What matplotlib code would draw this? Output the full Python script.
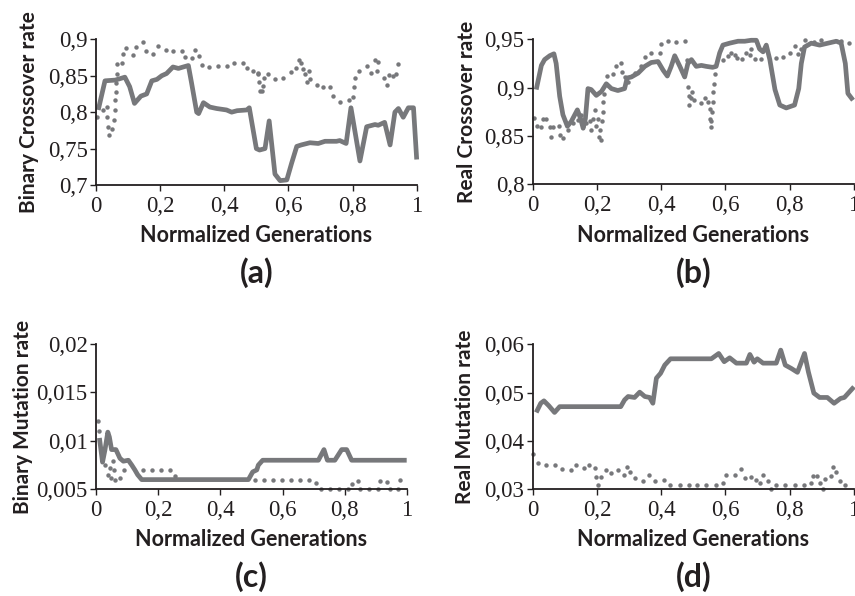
import matplotlib
matplotlib.use("Agg")
import matplotlib.pyplot as plt
from matplotlib.ticker import FixedLocator, FixedFormatter

# ---------------- data ----------------
x_ticks = [0, 0.2, 0.4, 0.6, 0.8, 1.0]
x_tick_labels = ["0", "0,2", "0,4", "0,6", "0,8", "1"]

# (a) Binary crossover rate
a_yticks = [0.7, 0.75, 0.8, 0.85, 0.9]
a_ylabels = ["0,7", "0,75", "0,8", "0,85", "0,9"]
a_solid_x = [0.007, 0.028, 0.06, 0.075, 0.09, 0.105, 0.12, 0.14, 0.158, 0.174, 0.19, 0.205, 0.22,
             0.24, 0.257, 0.272, 0.288, 0.298, 0.314, 0.32, 0.335, 0.355, 0.376, 0.407, 0.423,
             0.44, 0.47, 0.478, 0.50, 0.51, 0.527, 0.54, 0.558, 0.574, 0.595, 0.61, 0.626, 0.64,
             0.667, 0.693, 0.714, 0.75, 0.76, 0.78, 0.795, 0.823, 0.844, 0.87, 0.88, 0.90, 0.917,
             0.932, 0.943, 0.958, 0.974, 0.99, 1.0]
a_solid_y = [0.803, 0.843, 0.844, 0.846, 0.848, 0.835, 0.812, 0.822, 0.825, 0.843, 0.845, 0.850, 0.853,
             0.862, 0.860, 0.862, 0.864, 0.840, 0.800, 0.798, 0.813, 0.807, 0.805, 0.803, 0.800,
             0.802, 0.803, 0.806, 0.750, 0.748, 0.750, 0.788, 0.715, 0.706, 0.707, 0.730, 0.753, 0.755,
             0.758, 0.757, 0.760, 0.760, 0.761, 0.757, 0.806, 0.733, 0.780, 0.783, 0.782, 0.786, 0.755,
             0.800, 0.805, 0.793, 0.806, 0.806, 0.735]
a_dot_x = [0.002, 0.021, 0.033, 0.033, 0.038, 0.041, 0.049, 0.056, 0.059, 0.059, 0.062, 0.062, 0.064,
           0.066, 0.080, 0.083, 0.095, 0.114, 0.125, 0.148, 0.156, 0.179, 0.194, 0.218, 0.241, 0.267,
           0.278, 0.299, 0.310, 0.322, 0.330, 0.353, 0.379, 0.408, 0.431, 0.457, 0.472, 0.489, 0.504,
           0.509, 0.511, 0.506, 0.520, 0.517, 0.524, 0.537, 0.558, 0.584, 0.607, 0.624, 0.632, 0.639,
           0.645, 0.652, 0.657, 0.665, 0.667, 0.688, 0.709, 0.730, 0.740, 0.761, 0.789, 0.800, 0.804,
           0.807, 0.820, 0.844, 0.857, 0.870, 0.880, 0.875, 0.898, 0.906, 0.915, 0.927, 0.937, 0.941]
a_dot_y = [0.793, 0.803, 0.807, 0.793, 0.780, 0.768, 0.777, 0.789, 0.803, 0.816, 0.828, 0.840, 0.853,
           0.866, 0.867, 0.880, 0.888, 0.878, 0.890, 0.896, 0.884, 0.880, 0.891, 0.885, 0.884, 0.884,
           0.876, 0.874, 0.885, 0.877, 0.865, 0.862, 0.863, 0.863, 0.867, 0.867, 0.860, 0.857, 0.853,
           0.841, 0.829, 0.854, 0.836, 0.829, 0.847, 0.852, 0.845, 0.847, 0.855, 0.860, 0.871, 0.868,
           0.859, 0.853, 0.842, 0.857, 0.845, 0.837, 0.834, 0.834, 0.822, 0.814, 0.817, 0.821, 0.834,
           0.847, 0.857, 0.863, 0.854, 0.872, 0.869, 0.857, 0.847, 0.837, 0.851, 0.850, 0.853, 0.866]

# (b) Real crossover rate
b_yticks = [0.8, 0.85, 0.9, 0.95]
b_ylabels = ["0,8", "0,85", "0,9", "0,95"]
b_solid_x = [0.011, 0.027, 0.037, 0.053, 0.066, 0.073, 0.084, 0.094, 0.108, 0.120, 0.139, 0.149,
             0.157, 0.164, 0.172, 0.182, 0.198, 0.214, 0.229, 0.245, 0.265, 0.286, 0.294, 0.307,
             0.328, 0.349, 0.369, 0.390, 0.406, 0.419, 0.431, 0.442, 0.458, 0.473, 0.483, 0.494,
             0.509, 0.525, 0.540, 0.560, 0.571, 0.582, 0.592, 0.613, 0.639, 0.660, 0.680, 0.696,
             0.706, 0.717, 0.727, 0.738, 0.754, 0.769, 0.789, 0.815, 0.828, 0.836, 0.846, 0.867,
             0.893, 0.919, 0.945, 0.960, 0.973, 0.981, 0.997]
b_solid_y = [0.898, 0.923, 0.929, 0.933, 0.935, 0.925, 0.891, 0.872, 0.860, 0.865, 0.877, 0.868,
             0.858, 0.868, 0.899, 0.898, 0.892, 0.896, 0.904, 0.899, 0.897, 0.899, 0.910, 0.911,
             0.915, 0.922, 0.926, 0.927, 0.918, 0.912, 0.922, 0.933, 0.922, 0.911, 0.925, 0.929,
             0.922, 0.923, 0.922, 0.921, 0.922, 0.936, 0.944, 0.946, 0.948, 0.948, 0.949, 0.949,
             0.940, 0.937, 0.944, 0.929, 0.898, 0.882, 0.879, 0.882, 0.899, 0.925, 0.942, 0.946,
             0.944, 0.946, 0.948, 0.946, 0.925, 0.894, 0.887]
b_dot_x = [0.004, 0.014, 0.027, 0.032, 0.042, 0.056, 0.053, 0.063, 0.081, 0.084, 0.094, 0.110,
           0.125, 0.141, 0.151, 0.157, 0.167, 0.177, 0.182, 0.188, 0.193, 0.198, 0.203, 0.205,
           0.214, 0.211, 0.216, 0.219, 0.219, 0.222, 0.232, 0.250, 0.260, 0.276, 0.278, 0.286,
           0.296, 0.317, 0.338, 0.349, 0.369, 0.395, 0.400, 0.421, 0.447, 0.473, 0.481, 0.483,
           0.486, 0.488, 0.495, 0.492, 0.502, 0.525, 0.535, 0.546, 0.551, 0.558, 0.551, 0.554,
           0.554, 0.560, 0.560, 0.563, 0.567, 0.592, 0.608, 0.618, 0.629, 0.637, 0.652, 0.665,
           0.676, 0.680, 0.691, 0.712, 0.758, 0.779, 0.800, 0.817, 0.825, 0.836, 0.846, 0.877,
           0.898, 0.960, 0.983]
b_dot_y = [0.869, 0.860, 0.859, 0.868, 0.868, 0.849, 0.859, 0.859, 0.860, 0.851, 0.848, 0.856,
           0.863, 0.867, 0.872, 0.860, 0.863, 0.865, 0.856, 0.868, 0.877, 0.860, 0.868, 0.849,
           0.846, 0.856, 0.865, 0.875, 0.885, 0.893, 0.912, 0.914, 0.922, 0.926, 0.916, 0.911,
           0.906, 0.915, 0.922, 0.932, 0.936, 0.936, 0.945, 0.948, 0.947, 0.948, 0.929, 0.901,
           0.891, 0.882, 0.896, 0.889, 0.887, 0.884, 0.889, 0.885, 0.878, 0.875, 0.868, 0.865,
           0.859, 0.885, 0.895, 0.904, 0.914, 0.929, 0.933, 0.936, 0.934, 0.931, 0.930, 0.936,
           0.934, 0.940, 0.930, 0.930, 0.931, 0.932, 0.936, 0.943, 0.935, 0.940, 0.949, 0.947,
           0.949, 0.948, 0.946]

# (c) Binary mutation rate
c_yticks = [0.005, 0.01, 0.015, 0.02]
c_ylabels = ["0,005", "0,01", "0,015", "0,02"]
c_solid_x = [0.011, 0.021, 0.029, 0.038, 0.043, 0.050, 0.064, 0.077, 0.088, 0.104, 0.115, 0.125,
             0.134, 0.147, 0.490, 0.504, 0.517, 0.522, 0.536, 0.715, 0.733, 0.744, 0.768, 0.790,
             0.806, 0.822, 0.999]
c_solid_y = [0.0103, 0.0078, 0.0091, 0.0109, 0.0104, 0.0091, 0.0091, 0.0082, 0.0079, 0.0080, 0.0075, 0.0070,
             0.0065, 0.0060, 0.0060, 0.0068, 0.0070, 0.0075, 0.0080, 0.0080, 0.0091, 0.0080, 0.0080, 0.0091,
             0.0091, 0.0080, 0.0080]
c_dot_x = [0.007, 0.011, 0.029, 0.040, 0.045, 0.054, 0.047, 0.058, 0.061, 0.077, 0.090, 0.150,
           0.179, 0.208, 0.238, 0.254, 0.511, 0.540, 0.569, 0.598, 0.627, 0.656, 0.685, 0.709,
           0.722, 0.752, 0.781, 0.810, 0.822, 0.843, 0.849, 0.878, 0.907, 0.913, 0.935, 0.945,
           0.972, 0.977]
c_dot_y = [0.0120, 0.0110, 0.0075, 0.0065, 0.0072, 0.0079, 0.0062, 0.0070, 0.0060, 0.0062, 0.0070, 0.0070,
           0.0070, 0.0070, 0.0070, 0.0064, 0.0060, 0.0060, 0.0060, 0.0060, 0.0060, 0.0060, 0.0060, 0.0056,
           0.0050, 0.0050, 0.0050, 0.0050, 0.0055, 0.0059, 0.0050, 0.0050, 0.0050, 0.0059, 0.0058, 0.0050,
           0.0050, 0.0060]

# (d) Real mutation rate
d_yticks = [0.03, 0.04, 0.05, 0.06]
d_ylabels = ["0,03", "0,04", "0,05", "0,06"]
d_solid_x = [0.011, 0.025, 0.035, 0.050, 0.068, 0.084, 0.274, 0.286, 0.297, 0.317, 0.333, 0.349,
             0.364, 0.374, 0.385, 0.398, 0.411, 0.429, 0.556, 0.579, 0.596, 0.613, 0.634, 0.665,
             0.676, 0.689, 0.699, 0.717, 0.758, 0.772, 0.786, 0.805, 0.824, 0.846, 0.858, 0.875,
             0.893, 0.917, 0.938, 0.958, 0.970, 1.0]
d_solid_y = [0.0459, 0.0478, 0.0483, 0.0473, 0.0459, 0.0471, 0.0471, 0.0485, 0.0492, 0.0490, 0.0501, 0.0492,
             0.0490, 0.0478, 0.0530, 0.0540, 0.0557, 0.0570, 0.0570, 0.0581, 0.0564, 0.0572, 0.0561, 0.0561,
             0.0579, 0.0563, 0.0570, 0.0561, 0.0561, 0.0588, 0.0557, 0.0550, 0.0542, 0.0581, 0.0543, 0.0499,
             0.0490, 0.0490, 0.0478, 0.0488, 0.0490, 0.0512]
d_dot_x = [0.001, 0.016, 0.042, 0.070, 0.091, 0.118, 0.136, 0.160, 0.174, 0.193, 0.196, 0.203,
           0.212, 0.229, 0.243, 0.265, 0.284, 0.294, 0.302, 0.317, 0.343, 0.361, 0.380, 0.410,
           0.427, 0.458, 0.486, 0.512, 0.540, 0.571, 0.592, 0.602, 0.631, 0.649, 0.662, 0.679,
           0.694, 0.706, 0.717, 0.732, 0.741, 0.758, 0.786, 0.815, 0.844, 0.865, 0.872, 0.886,
           0.893, 0.903, 0.909, 0.927, 0.934, 0.945, 0.956, 0.973]
d_dot_y = [0.0372, 0.0354, 0.0350, 0.0350, 0.0342, 0.0340, 0.0350, 0.0345, 0.0350, 0.0345, 0.0326, 0.0309,
           0.0326, 0.0340, 0.0333, 0.0340, 0.0330, 0.0347, 0.0335, 0.0323, 0.0318, 0.0330, 0.0318, 0.0319,
           0.0309, 0.0309, 0.0309, 0.0309, 0.0309, 0.0309, 0.0312, 0.0330, 0.0330, 0.0341, 0.0324, 0.0325,
           0.0319, 0.0314, 0.0330, 0.0318, 0.0300, 0.0309, 0.0309, 0.0309, 0.0309, 0.0314, 0.0327, 0.0327,
           0.0312, 0.0301, 0.0321, 0.0328, 0.0347, 0.0336, 0.0318, 0.0309]

y_titles = ["Binary Crossover rate", "Real Crossover rate", "Binary Mutation rate", "Real Mutation rate"]
panel_tags = ["(a)", "(b)", "(c)", "(d)"]
x_title = "Normalized Generations"

# ---------------- drawing ----------------
LINE = "#77787b"
TXT = "#231f20"
W, H = 855, 596
fig = plt.figure(figsize=(W / 100, H / 100), dpi=100)

def px_rect(l, r, t, b):
    return [l / W, 1 - b / H, (r - l) / W, (b - t) / H]

rects = [px_rect(96, 416.7, 39.3, 185), px_rect(532.7, 854, 39.3, 184.3),
         px_rect(96, 407, 344, 489.3), px_rect(532.7, 854, 344.3, 489.3)]
panels = [
    (a_solid_x, a_solid_y, a_dot_x, a_dot_y, a_yticks, a_ylabels),
    (b_solid_x, b_solid_y, b_dot_x, b_dot_y, b_yticks, b_ylabels),
    (c_solid_x, c_solid_y, c_dot_x, c_dot_y, c_yticks, c_ylabels),
    (d_solid_x, d_solid_y, d_dot_x, d_dot_y, d_yticks, d_ylabels),
]
ylabel_x = [29, 467, 23, 465]
serif = "Liberation Serif"
sans = "Lato"

for i, (sx, sy, dx, dy, yt, yl) in enumerate(panels):
    ax = fig.add_axes(rects[i])
    ax.plot(dx, dy, linestyle="none", marker="o", ms=3.2, color=LINE, mec="none", clip_on=False)
    ax.plot(sx, sy, color=LINE, lw=3.4, solid_joinstyle="round", solid_capstyle="butt", clip_on=False)
    ax.set_xlim(0, 1)
    ax.set_ylim(yt[0], yt[-1])
    ax.xaxis.set_major_locator(FixedLocator(x_ticks))
    ax.xaxis.set_major_formatter(FixedFormatter(x_tick_labels))
    ax.yaxis.set_major_locator(FixedLocator(yt))
    ax.yaxis.set_major_formatter(FixedFormatter(yl))
    for s in ["top", "right"]:
        ax.spines[s].set_visible(False)
    for s in ["left", "bottom"]:
        ax.spines[s].set_linewidth(1.3)
        ax.spines[s].set_color(TXT)
    ax.tick_params(direction="out", length=4, width=1.0, color=TXT, pad=2)
    ax.tick_params(axis="x", pad=4)
    for lab in ax.get_xticklabels() + ax.get_yticklabels():
        lab.set_fontfamily(serif)
        lab.set_fontsize(16.5)
        lab.set_color(TXT)
    bb = rects[i]
    cx = bb[0] + bb[2] / 2
    cy = bb[1] + bb[3] / 2
    fig.text(ylabel_x[i] / W, cy, y_titles[i], rotation=90, ha="center", va="center",
             fontfamily=sans, fontweight="bold", fontsize=15, color=TXT)
    row_off = 0 if i < 2 else 304
    fig.text(cx, 1 - (235 + row_off) / H, x_title, ha="center", va="center",
             fontfamily=sans, fontweight="bold", fontsize=15.5, color=TXT)
    fig.text(cx, 1 - (273 + row_off) / H, panel_tags[i], ha="center", va="center",
             fontfamily=sans, fontweight="bold", fontsize=23, color=TXT)

fig.savefig("out.png", dpi=100)
